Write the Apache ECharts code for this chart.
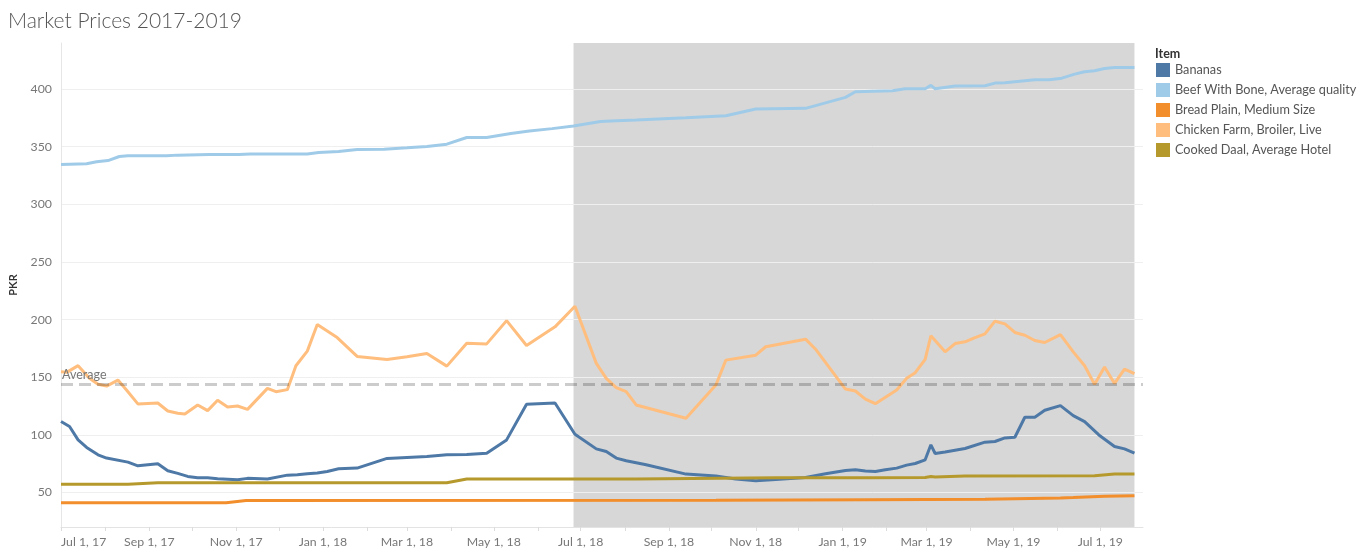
<!DOCTYPE html>
<html><head><meta charset="utf-8">
<script src="https://cdn.jsdelivr.net/npm/echarts@6/dist/echarts.min.js"></script>
<style>html,body{margin:0;padding:0;background:#fff}#c{width:1362px;height:556px}</style>
</head><body><div id="c"></div>
<script>
// ---- data ----
const bananasDates = ['2017-07-01','2017-07-07','2017-07-13','2017-07-19','2017-07-27','2017-08-02','2017-08-17','2017-08-24','2017-09-07','2017-09-14','2017-09-21','2017-09-28','2017-10-05','2017-10-12','2017-10-19','2017-11-02','2017-11-09','2017-11-23','2017-12-07','2017-12-14','2017-12-21','2017-12-28','2018-01-04','2018-01-12','2018-01-25','2018-02-15','2018-03-15','2018-03-29','2018-04-12','2018-04-26','2018-05-10','2018-05-24','2018-06-13','2018-06-27','2018-07-12','2018-07-19','2018-07-26','2018-08-02','2018-08-16','2018-09-13','2018-10-04','2018-10-18','2018-11-01','2018-11-15','2018-12-06','2018-12-20','2019-01-03','2019-01-10','2019-01-17','2019-01-24','2019-01-31','2019-02-08','2019-02-15','2019-02-21','2019-02-28','2019-03-04','2019-03-07','2019-03-14','2019-03-28','2019-04-11','2019-04-18','2019-04-25','2019-05-02','2019-05-09','2019-05-16','2019-05-23','2019-06-03','2019-06-12','2019-06-20','2019-06-30','2019-07-11','2019-07-18','2019-07-25'];
const bananasValues = [111.5,107.2,95.6,89,82.6,79.8,76.3,73.1,74.9,68.8,66.5,63.9,62.7,62.7,61.9,61,62.2,61.6,65,65.3,66.2,66.8,68.2,70.5,71.1,79.5,81.2,82.6,82.9,84.1,95.6,126.5,127.6,100.5,87.8,85.5,79.8,77.5,74,65.9,64.2,61.6,60.1,61.3,63,66.2,69.1,69.7,68.6,68.2,69.7,71.1,73.7,75.1,78.3,91.3,83.8,85,88.1,93.6,94.2,97.3,97.9,115.2,115.2,121.3,125.3,116.7,111.5,99.9,89.9,87.8,84.1];

const beefDates = ['2017-07-01','2017-07-19','2017-07-26','2017-08-03','2017-08-11','2017-08-17','2017-09-13','2017-09-21','2017-10-13','2017-11-03','2017-11-11','2017-12-21','2017-12-29','2018-01-12','2018-01-25','2018-02-13','2018-03-01','2018-03-15','2018-03-29','2018-04-12','2018-04-26','2018-05-13','2018-05-26','2018-06-11','2018-06-26','2018-07-15','2018-07-26','2018-08-09','2018-09-13','2018-10-11','2018-11-01','2018-12-06','2019-01-03','2019-01-10','2019-02-05','2019-02-14','2019-02-28','2019-03-04','2019-03-07','2019-03-21','2019-04-11','2019-04-18','2019-04-25','2019-05-16','2019-05-26','2019-06-04','2019-06-13','2019-06-20','2019-06-27','2019-07-04','2019-07-11','2019-07-25'];
const beefValues = [334.6,335.2,336.9,338,341.5,342.1,342.1,342.7,343.3,343.3,343.6,343.6,345,345.9,347.6,347.9,349,350.2,352.2,358,358,361.4,363.7,365.7,368,371.8,372.6,373.2,375.2,376.9,382.7,383.3,392.8,397.7,398.6,400.3,400.3,403.2,400.3,402.6,402.9,405.2,405.5,408.1,408.1,409.5,413,415,415.9,417.9,418.7,418.7];

const breadDates = ['2017-07-01','2017-10-25','2017-11-08','2018-10-04','2019-01-20','2019-04-11','2019-06-03','2019-06-12','2019-07-04','2019-07-25'];
const breadValues = [41.1,41.1,42.9,43.2,43.6,44,45.2,45.5,46.6,47.2];

const chickenDates = ['2017-07-01','2017-07-05','2017-07-13','2017-07-21','2017-07-27','2017-08-02','2017-08-10','2017-08-16','2017-08-24','2017-09-07','2017-09-14','2017-09-21','2017-09-26','2017-10-05','2017-10-12','2017-10-19','2017-10-26','2017-11-02','2017-11-09','2017-11-23','2017-11-29','2017-12-07','2017-12-13','2017-12-21','2017-12-28','2018-01-11','2018-01-25','2018-02-15','2018-03-01','2018-03-15','2018-03-29','2018-04-12','2018-04-26','2018-05-10','2018-05-24','2018-06-13','2018-06-27','2018-07-12','2018-07-19','2018-07-26','2018-08-02','2018-08-09','2018-09-13','2018-10-04','2018-10-11','2018-11-01','2018-11-08','2018-12-06','2018-12-13','2019-01-03','2019-01-10','2019-01-17','2019-01-24','2019-02-08','2019-02-15','2019-02-21','2019-02-28','2019-03-04','2019-03-14','2019-03-21','2019-03-28','2019-04-04','2019-04-11','2019-04-18','2019-04-25','2019-05-02','2019-05-09','2019-05-16','2019-05-23','2019-06-03','2019-06-12','2019-06-20','2019-06-27','2019-07-04','2019-07-11','2019-07-18','2019-07-25'];
const chickenValues = [154.7,154.2,160,149,143.8,142.3,147.5,138.9,126.8,127.6,120.7,118.7,118.1,125.9,121,130,124.2,125,122.1,140.3,137.4,139.2,159.9,172.6,195.7,184.4,168,165.4,167.7,170.6,159.6,179.5,178.9,199.1,177.5,193.7,211.5,162,149,140.9,137.4,125.9,114.4,143.2,164.8,169.1,176.4,183,174.3,139.7,138,131,127,138.9,149,153.9,165.4,185.9,172,179.2,180.7,184.4,187.6,198.6,196.3,188.8,186.4,181.8,180.1,187,172,159.9,143.8,158.8,144.6,157,153];

const daalDates = ['2017-07-01','2017-08-17','2017-09-07','2018-03-29','2018-04-12','2018-08-09','2018-11-15','2019-01-20','2019-02-28','2019-03-04','2019-03-07','2019-03-28','2019-06-27','2019-07-11','2019-07-25'];
const daalValues = [57,57,58.4,58.4,61.6,61.6,62.7,62.7,63,63.9,63.4,64.2,64.5,65.9,65.9];

const seriesNames = ['Bananas','Beef With Bone, Average quality','Bread Plain, Medium Size','Chicken Farm, Broiler, Live','Cooked Daal, Average Hotel'];
const seriesColors = ['#4e79a7','#a0cbe8','#f28e2b','#ffbe7d','#b6992d'];
const yTicks = [50,100,150,200,250,300,350,400];
const xLabelDates = ['2017-07-01','2017-09-01','2017-11-01','2018-01-01','2018-03-01','2018-05-01','2018-07-01','2018-09-01','2018-11-01','2019-01-01','2019-03-01','2019-05-01','2019-07-01'];
const xTickDates = ['2017-07-01','2017-08-01','2017-09-01','2017-10-01','2017-11-01','2017-12-01','2018-01-01','2018-02-01','2018-03-01','2018-04-01','2018-05-01','2018-06-01','2018-07-01','2018-08-01','2018-09-01','2018-10-01','2018-11-01','2018-12-01','2019-01-01','2019-02-01','2019-03-01','2019-04-01','2019-05-01','2019-06-01','2019-07-01'];
const AVERAGE = 143.5;
const SHADE_START = '2018-06-26';
const SHADE_END = '2019-07-25';
const X_MIN = '2017-07-01', X_MAX = '2019-07-31';
const Y_MIN = 20, Y_MAX = 440;

// ---- chart ----
const ts = s => { const [y,m,d] = s.split('-').map(Number); return Date.UTC(y, m-1, d); };
const zip = (ds, vs) => ds.map((d,i) => [ts(d), vs[i]]);
const allDates = [bananasDates, beefDates, breadDates, chickenDates, daalDates];
const allValues = [bananasValues, beefValues, breadValues, chickenValues, daalValues];
const MONTHS = ['Jan','Feb','Mar','Apr','May','Jun','Jul','Aug','Sep','Oct','Nov','Dec'];
const FONT = 'Lato, "Noto Sans", sans-serif';

const series = seriesNames.map((name, i) => ({
  name, type: 'line', data: zip(allDates[i], allValues[i]),
  showSymbol: false, symbol: 'none',
  lineStyle: { width: 3, color: seriesColors[i] },
  itemStyle: { color: seriesColors[i] },
  z: 3
}));
series[0].markArea = {
  silent: true,
  itemStyle: { color: '#d7d7d7' },
  data: [[{ xAxis: ts(SHADE_START) }, { xAxis: ts(SHADE_END) }]]
};
series[2].markLine = {
  silent: true, symbol: ['none','none'],
  lineStyle: { type: [12, 6], width: 3, color: 'rgba(0,0,0,0.2)' },
  label: { show: true, position: 'insideStartTop', formatter: 'Average', color: '#777', fontSize: 12.5, fontFamily: FONT, distance: [1, 3] },
  data: [{ yAxis: AVERAGE }]
};

const chart = echarts.init(document.getElementById('c'));
chart.setOption({
  animation: false,
  textStyle: { fontFamily: FONT },
  title: { text: 'Market Prices 2017-2019', left: 3, top: 6, textStyle: { fontSize: 21, fontWeight: 300, color: '#555', fontFamily: FONT } },
  graphic: [{ type: 'text', left: 1155, top: 47, style: { text: 'Item', fontSize: 12.5, fontWeight: 'bold', fill: '#333', fontFamily: FONT } }],
  legend: {
    orient: 'vertical', left: 1156, top: 63, padding: 0, itemGap: 6,
    itemWidth: 14, itemHeight: 14, icon: 'rect',
    textStyle: { fontSize: 12.7, color: '#555', fontFamily: FONT },
    data: seriesNames
  },
  grid: { left: 59, right: 219, top: 43, bottom: 29, containLabel: false },
  xAxis: {
    type: 'value', min: ts(X_MIN), max: ts(X_MAX),
    axisLine: { show: true, lineStyle: { color: '#e3e3e3', width: 1 } },
    axisTick: { show: true, length: 4, lineStyle: { color: '#dcdcdc' }, customValues: xTickDates.map(ts) },
    axisLabel: {
      customValues: xLabelDates.map(ts), color: '#777', fontSize: 12.3, fontFamily: FONT, margin: 9,
      alignMinLabel: 'left', hideOverlap: false,
      formatter: v => { const d = new Date(v); return MONTHS[d.getUTCMonth()] + ' ' + d.getUTCDate() + ', ' + String(d.getUTCFullYear()).slice(2); }
    },
    splitLine: { show: false }
  },
  yAxis: {
    type: 'value', min: Y_MIN, max: Y_MAX, z: 1.5,
    name: 'PKR', nameLocation: 'middle', nameRotate: 90, nameGap: 42,
    nameTextStyle: { fontSize: 11, fontWeight: 'bold', color: '#333', fontFamily: FONT },
    axisLine: { show: true, lineStyle: { color: '#e6e6e6' } },
    axisTick: { show: false, customValues: yTicks },
    axisLabel: { customValues: yTicks, color: '#777', fontSize: 12.3, fontFamily: FONT, margin: 9 },
    splitLine: { show: true, lineStyle: { color: '#efefef', width: 1 } }
  },
  series
});
</script>
</body></html>
